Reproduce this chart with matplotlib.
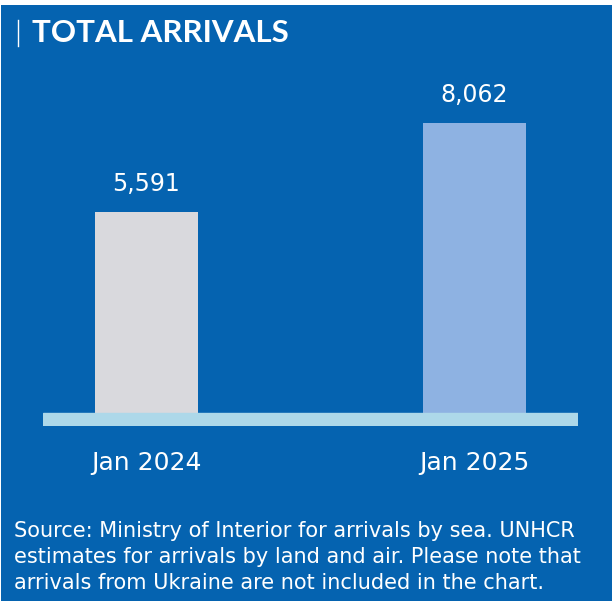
import matplotlib
matplotlib.use("Agg")
import matplotlib.pyplot as plt
from matplotlib.lines import Line2D

# data
periods = ["Jan 2024", "Jan 2025"]
arrivals = [5591, 8062]
bar_colors = ["#D9D9DD", "#8EB2E2"]

title = "TOTAL ARRIVALS"
source = ("Source: Ministry of Interior for arrivals by sea. UNHCR\n"
          "estimates for arrivals by land and air. Please note that\n"
          "arrivals from Ukraine are not included in the chart.")

BG = "#0563B0"
BAND = "#ADD8E9"

W, H = 614, 603
fig = plt.figure(figsize=(W / 100, H / 100), dpi=100)
fig.patch.set_facecolor("white")

# blue panel
panel = fig.add_axes([1 / W, 2 / H, 611 / W, 596 / H])
panel.set_facecolor(BG)
panel.set_xticks([])
panel.set_yticks([])
for s in panel.spines.values():
    s.set_visible(False)

# title with small vertical bar
fig.add_artist(Line2D([18 / W, 18 / W], [1 - 20 / H, 1 - 46 / H], color="white", lw=1.0))
fig.text(32 / W, 1 - 33 / H, title, color="white", fontsize=22.5, fontweight="bold",
         family="Lato", va="center", ha="left")

# bar axes: pixel x 43..578, y 60..426
ax = fig.add_axes([43 / W, (H - 426) / H, 535 / W, (426 - 60) / H])
ax.patch.set_alpha(0)
per_px = 27.8
ax.set_ylim(-13 * per_px, (413 - 60) * per_px)
unit = 327.5
ax.set_xlim(-103.5 / unit, (535 - 103.5) / unit)
x = [0, 1]
ax.bar(x, arrivals, width=103 / unit, color=bar_colors, zorder=2)
ax.axhspan(-13 * per_px, 0, color=BAND, zorder=3)
for xi, v in zip(x, arrivals):
    ax.text(xi, v + 28 * per_px, f"{v:,}", color="white", fontsize=17,
            ha="center", va="center")
ax.axis("off")

for xi, lab in zip(x, periods):
    fig.text((43 + 103.5 + xi * unit) / W, 1 - 463 / H, lab, color="white",
             fontsize=18, ha="center", va="center")

fig.text(14 / W, 1 - 557 / H, source, color="white", fontsize=15,
         ha="left", va="center", linespacing=1.4)

fig.savefig("out.png", dpi=100, facecolor=fig.get_facecolor())
